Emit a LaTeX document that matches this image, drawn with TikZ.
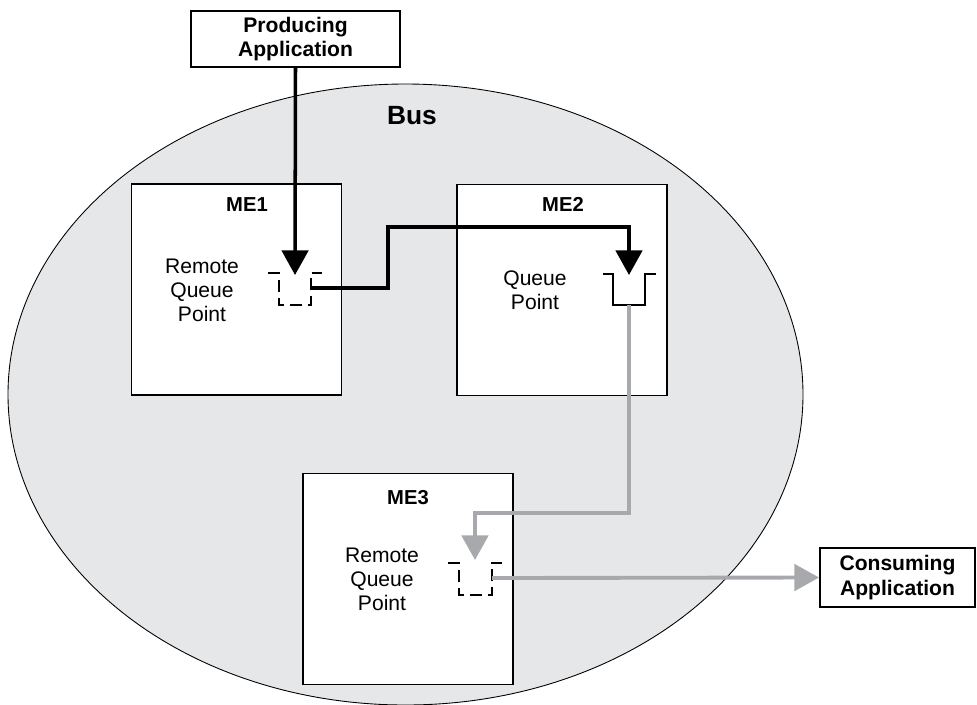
\documentclass[tikz,border=0pt]{standalone}
\usepackage{fontspec}
\setmainfont{Liberation Sans}
\usetikzlibrary{arrows.meta}
\definecolor{busgray}{HTML}{E6E7E8}
\definecolor{flowgray}{HTML}{A7A9AC}

\begin{document}
\begin{tikzpicture}[x=0.02cm,y=-0.02cm,
  mebox/.style={draw,line width=1.1pt,fill=white,minimum width=4.2cm,minimum height=4.22cm},
  appbox/.style={draw,line width=1.1pt,fill=white,align=center,inner sep=0pt,font=\bfseries\fontsize{12}{14}\selectfont},
  melabel/.style={font=\bfseries\fontsize{11.5}{13}\selectfont},
  qtext/.style={align=center,font=\fontsize{12}{13.6}\selectfont},
  qsym/.style={line width=1.1pt},
  qremote/.style={qsym,dash pattern=on 6.8pt off 3.4pt},
  flow/.style={line width=2pt,-{Triangle[length=14pt,width=15pt]}},
  greyflow/.style={flow,line width=2.2pt,color=flowgray},
]
\useasboundingbox (0,0) rectangle (977,704);

%the bus
\draw[fill=busgray,line width=0.5pt] (405.5,394.5) ellipse [x radius=397.5, y radius=310.5];
\node[font=\bfseries\fontsize{15}{18}\selectfont] (bus) at (412,116) {Bus};

%messaging engines
\node[mebox] (me1) at (236.5,289.5) {};
\node[mebox] (me2) at (562,290) {};
\node[mebox] (me3) at (408,579) {};
\node[melabel] (me1lab) at (247,205) {ME1};
\node[melabel] (me2lab) at (563,204) {ME2};
\node[melabel] (me3lab) at (408,498) {ME3};
\node[qtext] (rqp1) at (202,290) {Remote\\Queue\\Point};
\node[qtext] (qp2) at (535,290) {Queue\\Point};
\node[qtext] (rqp3) at (382,579) {Remote\\Queue\\Point};

%applications
\node[appbox,minimum width=4.18cm,minimum height=1.12cm] (prod) at (295.5,39) {Producing\\Application};
\node[appbox,minimum width=3.1cm,minimum height=1.18cm] (cons) at (897.5,577.5) {Consuming\\Application};

%queue points
\draw[qremote] (268,273)--(279,273)--(279,305)--(311,305)--(311,273)--(322,273);
\draw[qsym] (603,274)--(613,274)--(613,305)--(645,305)--(645,274)--(656,274);
\draw[qremote] (448,563)--(459,563)--(459,595)--(492,595)--(492,563)--(502,563);
\coordinate (q1in) at (295,275); \coordinate (q1out) at (311,288);
\coordinate (q2in) at (629,275); \coordinate (q2out) at (629,305);
\coordinate (q3in) at (475,560); \coordinate (q3out) at (492,578);
\coordinate (k1) at (388,227); \coordinate (k2) at (475,513);

%message flow
\draw[flow] (prod.south) -- (q1in);
\draw[flow] (q1out) -| (k1) -| (q2in);
\draw[greyflow] (q2out) |- (k2) -- (q3in);
\draw[greyflow] (q3out) -- (cons.west);
\end{tikzpicture}
\end{document}
